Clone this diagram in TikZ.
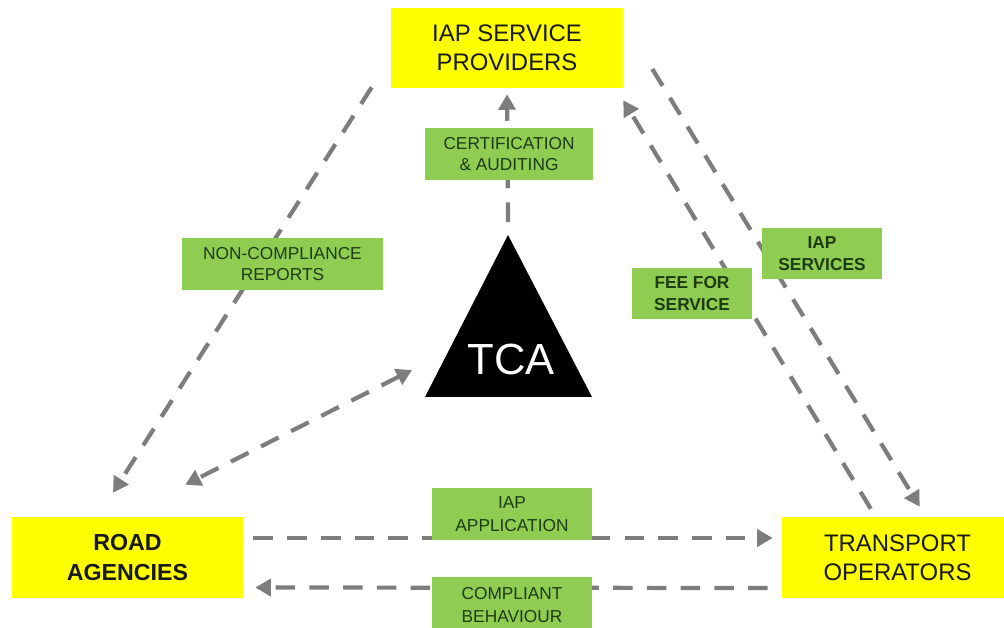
\documentclass[tikz,border=0pt]{standalone}
\usepackage{fontspec}
\setmainfont{Liberation Sans}
\usepackage{tikz}
\usetikzlibrary{arrows.meta,calc}

\definecolor{partyyellow}{RGB}{255,255,0}
\definecolor{taggreen}{RGB}{142,204,82}
\definecolor{taggreentext}{RGB}{30,60,20}
\definecolor{flowgray}{RGB}{125,125,125}

\begin{document}
\begin{tikzpicture}[x=0.025cm,y=-0.025cm,>={Triangle[length=11pt,width=12pt]}]
  \tikzstyle{party}=[fill=partyyellow,inner sep=0pt,align=center,text=black!90,font=\fontsize{17}{21}\selectfont]
  \tikzstyle{tag}=[fill=taggreen,inner sep=0pt,align=center,text=taggreentext,font=\fontsize{12.3}{15}\selectfont]
  \tikzstyle{flow}=[draw=flowgray,line width=3pt,dash pattern=on 14pt off 10pt]

  \useasboundingbox (0,0) rectangle (1004,628);

  \node[party,minimum width=5.8cm,minimum height=2cm] (IAP) at (507,48) {IAP SERVICE\\PROVIDERS};
  \node[party,minimum width=5.775cm,minimum height=2.025cm,font=\fontsize{16.5}{21}\selectfont\bfseries] (RA) at (127.5,557.5) {ROAD\\AGENCIES};
  \node[party,minimum width=5.775cm,minimum height=2.025cm,font=\fontsize{17}{20.5}\selectfont] (TO) at (897.5,557.5) {TRANSPORT\\OPERATORS};

  \coordinate (tcaT) at (508,235);
  \coordinate (tcaL) at (425,397);
  \coordinate (tcaR) at (592,397);
  \fill[black] (tcaT) -- (tcaR) -- (tcaL) -- cycle;
  \node[text=white,font=\fontsize{31}{31}\selectfont] (TCA) at (511,359) {TCA};

  \draw[flow,->] ($(tcaT)+(0,-13)$) -- ($(IAP.south)+(0,6)$);
  \draw[flow,->] ($(IAP.south west)+(-19,-1)$) -- ($(RA.north)+(-14.5,-24)$);
  \draw[flow,<->] ($(tcaL)+(-13,-27)$) -- ($(RA.north east)+(-58,-32)$);
  \draw[flow,->] ($(TO.north west)+(89,-8)$) -- ($(IAP.south east)+(0,12)$);
  \draw[flow,->] ($(IAP.east)+(29,21)$) -- ($(TO.north west)+(138,-10)$);
  \draw[flow,->] ($(RA.east)+(10,-19.5)$) -- ($(TO.west)+(-9,-19.5)$);
  \draw[flow,->] ($(TO.west)+(-14,30.5)$) -- ($(RA.east)+(12,30)$);

  \node[tag,minimum width=4.2cm,minimum height=1.3cm] (CA) at (509,154) {CERTIFICATION\\\& AUDITING};
  \node[tag,minimum width=5.025cm,minimum height=1.3cm] (NCR) at (282.5,264) {NON-COMPLIANCE\\REPORTS};
  \node[tag,minimum width=3cm,minimum height=1.275cm,font=\fontsize{12.3}{16}\selectfont\bfseries] (IS) at (822,253.5) {IAP\\SERVICES};
  \node[tag,minimum width=3cm,minimum height=1.275cm,font=\fontsize{12.3}{16}\selectfont\bfseries] (FFS) at (692,293.5) {FEE FOR\\SERVICE};
  \node[tag,minimum width=4cm,minimum height=1.3cm,font=\fontsize{12.3}{16}\selectfont] (IA) at (512,514) {IAP\\APPLICATION};
  \node[tag,minimum width=4cm,minimum height=1.4cm,font=\fontsize{12.3}{16}\selectfont] (CB) at (512,605) {COMPLIANT\\BEHAVIOUR};
\end{tikzpicture}
\end{document}
